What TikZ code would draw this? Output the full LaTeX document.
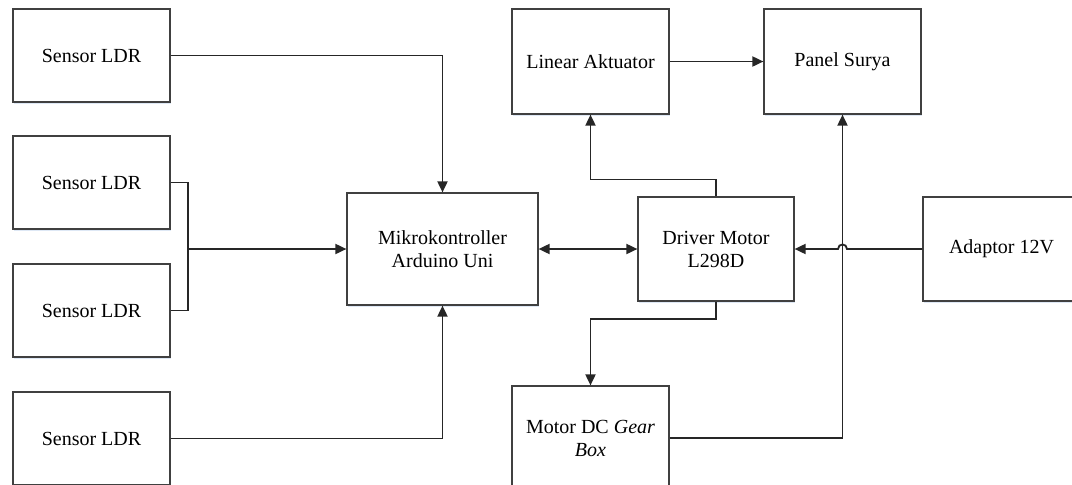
\documentclass[tikz,border=0pt]{standalone}
\usepackage{fontspec}
\setmainfont{Liberation Serif}
\usetikzlibrary{arrows.meta,shadows}
\definecolor{boxline}{HTML}{404040}
\definecolor{shadowc}{RGB}{222,232,245}
\tikzset{
  blk/.style={draw=boxline, line width=1.2pt, fill=white, inner sep=0pt,
    minimum width=157pt, minimum height=#1, align=center,
    font=\fontsize{20}{23}\selectfont,
    drop shadow={shadow xshift=0.8pt, shadow yshift=-2pt, fill=shadowc, opacity=1}},
  blk/.default=93pt,
  conn/.style={draw=black!85, line width=1.8pt},
  arr/.style={conn, -{Triangle[length=11pt,width=10pt]}},
  darr/.style={conn, {Triangle[length=11pt,width=10pt]}-{Triangle[length=11pt,width=10pt]}}
}
\begin{document}
\begin{tikzpicture}[x=1pt,y=-1pt]
\useasboundingbox (0,0) rectangle (1072,485);
% boxes
\node[blk] (s1) at (91.5,55.5) {Sensor LDR};
\node[blk] (s2) at (91.5,182.5) {Sensor LDR};
\node[blk] (s3) at (91.5,310.5) {Sensor LDR};
\node[blk] (s4) at (91.5,438.5) {Sensor LDR};
\node[blk=112pt, minimum width=191pt] (mk) at (442.5,249) {Mikrokontroller\\Arduino Uni};
\node[blk=104pt, minimum width=156pt] (dm) at (716,249) {Driver Motor\\L298D};
\node[blk=105pt] (la) at (590.5,61.5) {Linear Aktuator};
\node[blk=105pt] (ps) at (842.5,61.5) {Panel Surya};
\node[blk=104pt] (ad) at (1001.5,249) {Adaptor 12V};
\node[blk=104pt] (mt) at (590.5,438) {Motor DC \textit{Gear}\\\textit{Box}};
% connectors
\coordinate (j) at (188,249);
\draw[arr] (s1.east) -| (mk.north);
\draw[conn] (s2.east) -| (j) |- (s3.east);
\draw[arr] (j) -- (mk.west);
\draw[arr] (s4.east) -| (mk.south);
\draw[darr] (mk.east) -- (dm.west);
\draw[arr] (dm.north) -- ++(0,-17) -| (la.south);
\draw[arr] (la.east) -- (ps.west);
\draw[arr] (dm.south) -- ++(0,17) -| (mt.north);
\draw[arr] (mt.east) -| (ps.south);
\coordinate (h1) at (847,249);
\coordinate (h2) at (838,249);
\draw[arr] (ad.west) -- (h1) .. controls (847,243) and (838,243) .. (h2) -- (dm.east);
\end{tikzpicture}
\end{document}
